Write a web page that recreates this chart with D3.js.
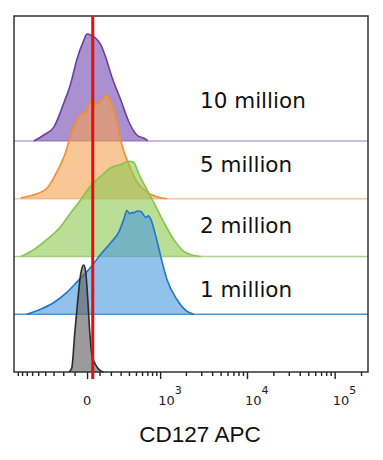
<!DOCTYPE html>
<html>
<head>
<meta charset="utf-8">
<script src="https://cdn.jsdelivr.net/npm/d3@7"></script>
<style>
  html, body { margin: 0; padding: 0; background: #fff; }
  svg { display: block; }
</style>
</head>
<body>
<svg id="chart" width="383" height="460"></svg>
<script>
// ---------------- data ----------------
// sample order from bottom to top
const samples = ["unstained", "1 million", "2 million", "5 million", "10 million"];
const sampleLabels = ["", "1 million", "2 million", "5 million", "10 million"];

// histograms: [CD127 APC intensity, % of mode]
const unstained = [[-148,0],[-124,3.7],[-99,36],[-74,67],[-50,92],[-26,100],[-10,93],[6,67],[22,36],[37,17],[61,8.4],[85,3.7],[110,1],[136,0]];
const oneMillion = [[-697,0],[-464,4.7],[-296,11],[-167,20.5],[-82,30],[29,44],[110,56],[200,67],[281,77],[337,89],[374,97],[410,94],[439,95],[467,95],[520,96.5],[580,96],[668,90.5],[720,92],[770,89],[887,73],[1018,54],[1199,33],[1568,14],[2046,3],[2466,0]];
const twoMillion = [[-827,0],[-570,6.5],[-377,16],[-224,28],[-132,41],[-50,53],[-10,60],[53,69],[110,75],[200,83],[303,86],[399,89],[467,88],[546,77],[668,64.5],[838,50.5],[1104,32],[1444,16],[1890,4.7],[2466,1],[2965,0]];
const fiveMillion = [[-827,1],[-570,3.7],[-377,10],[-265,25],[-176,44],[-124,63],[-50,78.5],[-10,81],[37,92.5],[77,88],[119,92.5],[162,97],[200,90.5],[250,76],[314,50.5],[399,32],[513,16],[687,6.5],[1018,1],[1199,0]];
const tenMillion = [[-570,0],[-419,5.6],[-296,13],[-195,35.5],[-132,54],[-82,76],[-26,94],[-2,100],[29,99],[69,96],[110,90],[152,78.5],[209,60],[303,38],[399,18],[513,5.6],[687,1],[706,0]];
const histograms = [unstained, oneMillion, twoMillion, fiveMillion, tenMillion];

// gate threshold (red line)
const gateValue = 45;

// axis ticks
const majorTickValues = [0, 1e3, 1e4, 1e5];
const majorTickBases = ["0", "10", "10", "10"];
const majorTickExponents = ["", "3", "4", "5"];
const xTitle = "CD127 APC";

// ---------------- styles ----------------
const strokeColors = ["#2b2b2b", "#1f77cc", "#84c44a", "#f28c2e", "#6a40a4"];
const fillColors   = ["#666666", "#4a98de", "#8cc850", "#f5a050", "#7d55b5"];
const fillOpacity  = [0.65, 0.6, 0.6, 0.6, 0.65];
const baseColors   = ["#2b2b2b", "#4a94dc", "#a9d68a", "#f7c89c", "#bba4da"];

// ---------------- layout ----------------
const W = 383, H = 460;
const plot = { left: 14, right: 368, top: 16, bottom: 372 };
const C = 300; // arcsinh cofactor of the biexponential-like display
const T = v => Math.asinh(v / C);

const xT = d3.scaleLinear()
  .domain([T(-1000), T(240000)])
  .range([plot.left, plot.right]);
const x = v => xT(T(v));

const base = d3.scalePoint()
  .domain(samples)
  .range([plot.bottom, 141]);

const h = d3.scaleLinear().domain([0, 100]).range([0, 107]);

const svg = d3.select("#chart");

// ---------------- histograms (top sample first) ----------------
const order = d3.range(samples.length).reverse();
const g = svg.append("g");

order.forEach(i => {
  const b = base(samples[i]);
  // baseline line across the full width
  if (i > 0) {
    g.append("line")
      .attr("x1", plot.left).attr("x2", plot.right)
      .attr("y1", b).attr("y2", b)
      .attr("stroke", baseColors[i])
      .attr("stroke-width", 1.3);
  }
  const area = d3.area()
    .x(d => x(d[0]))
    .y0(b)
    .y1(d => b - h(d[1]))
    .curve(d3.curveMonotoneX);
  const line = d3.line()
    .x(d => x(d[0]))
    .y(d => b - h(d[1]))
    .curve(d3.curveMonotoneX);
  g.append("path")
    .attr("d", area(histograms[i]))
    .attr("fill", fillColors[i])
    .attr("fill-opacity", fillOpacity[i]);
  g.append("path")
    .attr("d", line(histograms[i]))
    .attr("fill", "none")
    .attr("stroke", strokeColors[i])
    .attr("stroke-width", 1.6)
    .attr("stroke-linejoin", "round");
});

// ---------------- labels ----------------
const labelY = { "10 million": 108, "5 million": 172, "2 million": 233, "1 million": 297 };
samples.forEach((s, i) => {
  if (!sampleLabels[i]) return;
  svg.append("text")
    .attr("x", 200)
    .attr("y", labelY[s])
    .attr("font-family", "DejaVu Sans, sans-serif")
    .attr("font-size", 21.5)
    .attr("fill", "#111")
    .text(sampleLabels[i]);
});

// ---------------- frame ----------------
svg.append("rect")
  .attr("x", plot.left).attr("y", plot.top)
  .attr("width", plot.right - plot.left)
  .attr("height", plot.bottom - plot.top)
  .attr("fill", "none")
  .attr("stroke", "#333")
  .attr("stroke-width", 1.5);

// ---------------- axis ticks ----------------
const minorValues = [].concat(
  d3.range(-900, 0, 100),
  d3.range(100, 1000, 100),
  d3.range(2e3, 1e4, 1e3),
  d3.range(2e4, 1e5, 1e4),
  [2e5]
);

const minorAxis = d3.axisBottom(xT)
  .tickValues(minorValues.map(T))
  .tickSize(4)
  .tickFormat("");
const majorAxis = d3.axisBottom(xT)
  .tickValues(majorTickValues.map(T))
  .tickSize(7)
  .tickFormat("");

const ax1 = svg.append("g").attr("transform", `translate(0,${plot.bottom})`).call(minorAxis);
const ax2 = svg.append("g").attr("transform", `translate(0,${plot.bottom})`).call(majorAxis);
[ax1, ax2].forEach(a => {
  a.select(".domain").remove();
  a.selectAll("line").attr("stroke", "#222").attr("stroke-width", 1.4);
});

// tick labels
majorTickValues.forEach((v, i) => {
  const t = svg.append("text")
    .attr("y", 405)
    .attr("font-family", "DejaVu Sans, sans-serif")
    .attr("font-size", 13)
    .attr("fill", "#222");
  if (majorTickExponents[i] === "") {
    t.attr("x", x(v)).attr("text-anchor", "middle").text(majorTickBases[i]);
  } else {
    t.attr("x", x(v) - 2).attr("text-anchor", "start");
    t.append("tspan").text(majorTickBases[i]);
    t.append("tspan").attr("font-size", 11).attr("dy", -11).text(majorTickExponents[i]);
  }
});

// axis title
svg.append("text")
  .attr("x", 200)
  .attr("y", 442)
  .attr("text-anchor", "middle")
  .attr("font-family", "Liberation Sans, Arial, sans-serif")
  .attr("font-size", 22.5)
  .attr("fill", "#111")
  .text(xTitle);

// ---------------- gate line ----------------
svg.append("line")
  .attr("x1", x(gateValue)).attr("x2", x(gateValue))
  .attr("y1", plot.top).attr("y2", 379)
  .attr("stroke", "#e01010")
  .attr("stroke-width", 3);
</script>
</body>
</html>
